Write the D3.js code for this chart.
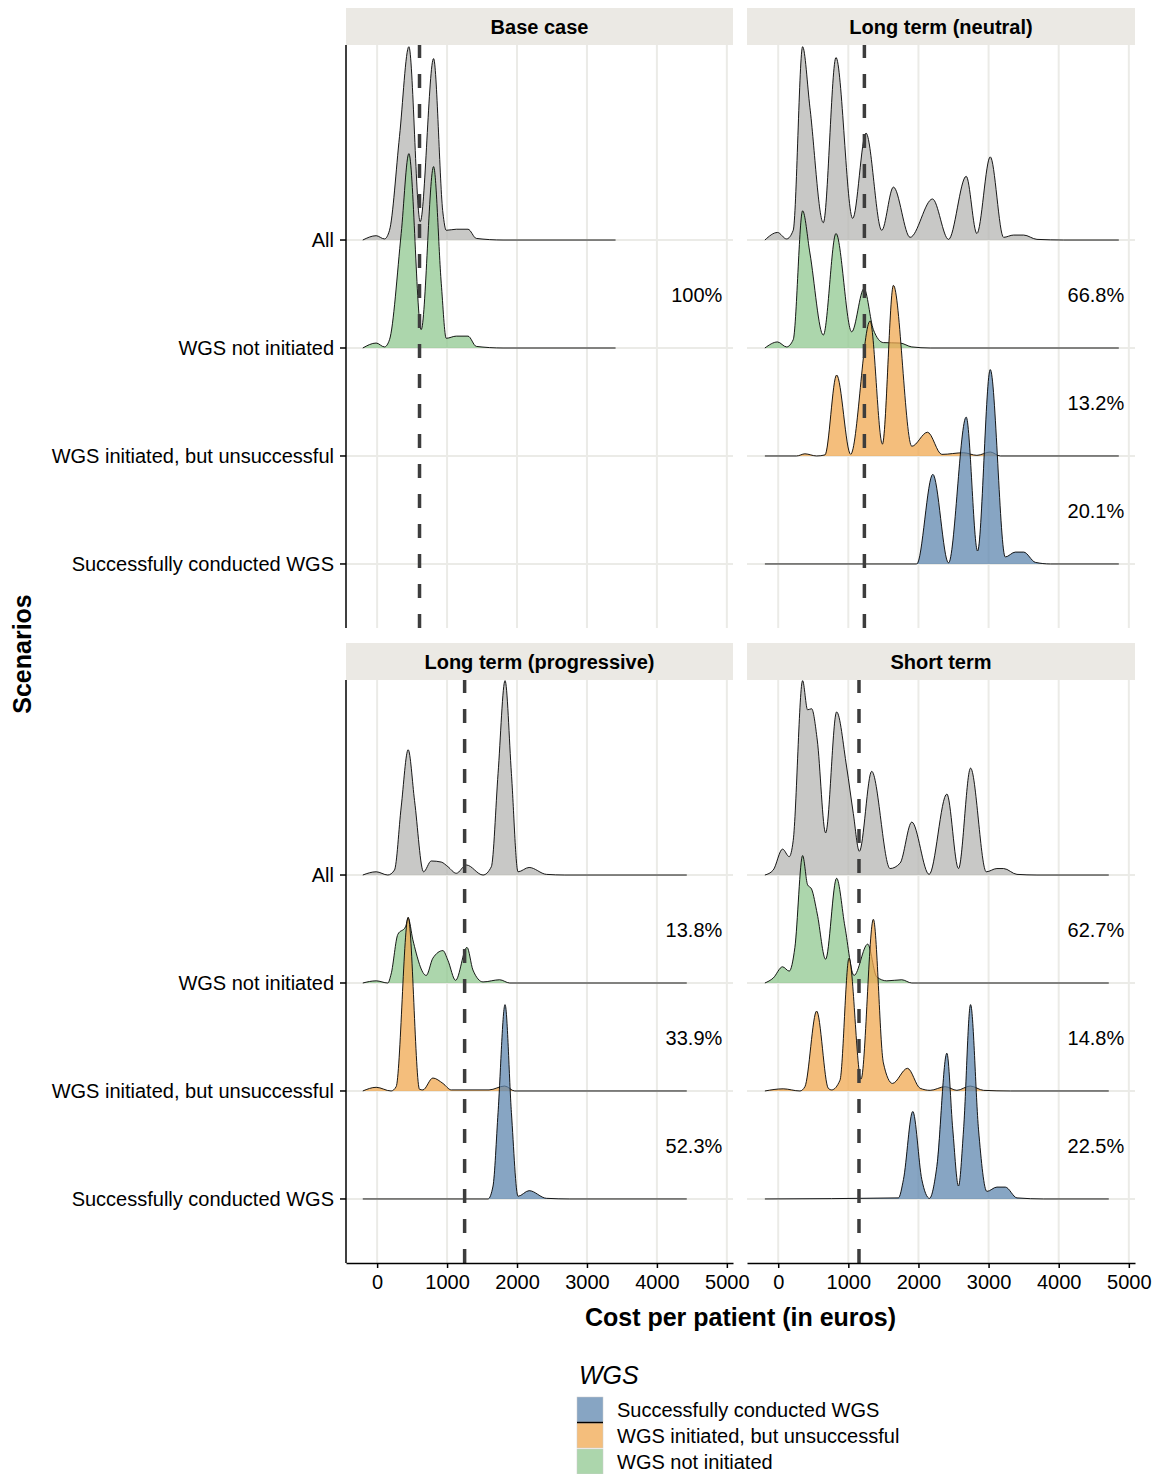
<!DOCTYPE html>
<html lang="en">
<head>
    <meta charset="UTF-8">
    <script src="https://cdn.jsdelivr.net/npm/d3@7"></script>
    <title>WGS cost ridges</title>
    <style>
        body {
            margin: 0;
            background: #fff;
        }

        text {
            font-family: 'Liberation Sans', Arial, sans-serif;
            fill: #000;
        }
    </style>
</head>

<body>
    <div id="chart"></div>

    <script>
        // facets and rows
        const panels = ["Base case", "Long term (neutral)", "Long term (progressive)", "Short term"];
        const scenarios = ["All", "WGS not initiated", "WGS initiated, but unsuccessful", "Successfully conducted WGS"];
        const xTicks = [0, 1000, 2000, 3000, 4000, 5000];
        const meanCost = [606, 1229, 1251, 1152];

        // share of patients per row (All row has no label)
        const shares = [
            [null, 100, null, null],
            [null, 66.8, 13.2, 20.1],
            [null, 13.8, 33.9, 52.3],
            [null, 62.7, 14.8, 22.5]
        ];

        // density curves: [cost, scaled height]
        const baseAll = [[-205, 0], [-14, 0.04], [105, 0.01], [177, 0.09], [320, 0.96], [454, 1.79], [616, 0.17], [807, 1.68], [941, 0.25], [988, 0.09], [1132, 0.10], [1299, 0.10], [1418, 0.015], [1800, 0], [3409, 0]];
        const baseNot = [[-205, 0], [-14, 0.046], [105, 0.01], [177, 0.077], [344, 1.06], [454, 1.80], [630, 0.17], [807, 1.68], [917, 0.60], [988, 0.09], [1132, 0.11], [1299, 0.11], [1418, 0.015], [1800, 0], [3409, 0]];

        const neutralAll = [[-190, 0], [-10, 0.07], [119, 0.01], [214, 0.09], [348, 1.79], [452, 1.23], [643, 0.16], [824, 1.69], [1062, 0.20], [1252, 0.99], [1476, 0.09], [1643, 0.49], [1881, 0.025], [2200, 0.38], [2429, 0.006], [2681, 0.59], [2833, 0.06], [3024, 0.77], [3214, 0.025], [3357, 0.046], [3500, 0.046], [3690, 0.006], [4071, 0], [4857, 0]];
        const neutralNot = [[-190, 0], [-10, 0.056], [119, 0.01], [214, 0.077], [348, 1.27], [452, 0.88], [643, 0.12], [824, 1.06], [1048, 0.15], [1224, 0.55], [1357, 0.17], [1500, 0.05], [1738, 0.046], [1905, 0.01], [2167, 0], [4857, 0]];
        const neutralFail = [[-190, 0], [262, 0], [381, 0.02], [548, 0], [667, 0.01], [833, 0.75], [1033, 0.016], [1310, 1.25], [1486, 0.11], [1643, 1.58], [1905, 0.09], [2129, 0.22], [2333, 0.015], [2643, 0.03], [2833, 0.006], [3024, 0.037], [3167, 0], [4857, 0]];
        const neutralSuccess = [[-190, 0], [1976, 0], [2205, 0.83], [2429, 0.01], [2681, 1.36], [2843, 0.12], [3024, 1.80], [3238, 0.065], [3381, 0.11], [3500, 0.11], [3667, 0.015], [3881, 0], [4857, 0]];

        const progAll = [[-205, 0], [-14, 0.03], [153, 0], [248, 0.046], [344, 0.63], [444, 1.16], [535, 0.69], [664, 0.03], [774, 0.13], [917, 0.12], [1012, 0.077], [1132, 0.016], [1275, 0.093], [1514, 0], [1633, 0.077], [1729, 0.94], [1829, 1.80], [1920, 0.94], [2015, 0.03], [2173, 0.07], [2421, 0.006], [2684, 0], [4427, 0]];
        const progNot = [[-205, 0], [-14, 0.02], [153, 0], [200, 0.083], [296, 0.45], [406, 0.52], [444, 0.60], [511, 0.40], [702, 0.07], [797, 0.23], [941, 0.30], [1012, 0.21], [1122, 0.025], [1285, 0.33], [1370, 0.12], [1514, 0.01], [1752, 0.03], [1896, 0], [4427, 0]];
        const progFail = [[-205, 0], [-14, 0.034], [200, 0], [272, 0.04], [444, 1.61], [606, 0.016], [654, 0.01], [797, 0.12], [941, 0.07], [1060, 0.01], [1600, 0.01], [1824, 0.046], [1967, 0], [4427, 0]];
        const progSuccess = [[-205, 0], [1585, 0], [1657, 0.12], [1729, 0.80], [1829, 1.80], [1920, 0.80], [2015, 0.025], [2173, 0.077], [2421, 0.006], [2755, 0], [4427, 0]];

        const shortAll = [[-190, 0], [-71, 0.046], [62, 0.24], [157, 0.17], [214, 0.32], [348, 1.80], [419, 1.53], [476, 1.54], [557, 1.25], [676, 0.39], [833, 1.51], [976, 1.00], [1071, 0.57], [1157, 0.22], [1333, 0.96], [1595, 0.06], [1738, 0.11], [1905, 0.49], [2152, 0.006], [2405, 0.75], [2571, 0.06], [2743, 0.99], [2967, 0.03], [3119, 0.06], [3214, 0.06], [3405, 0.006], [3690, 0], [4714, 0]];
        const shortNot = [[-190, 0], [-71, 0.046], [62, 0.15], [157, 0.11], [238, 0.33], [348, 1.18], [419, 0.91], [476, 0.87], [557, 0.64], [676, 0.22], [833, 0.97], [952, 0.52], [1081, 0.07], [1276, 0.36], [1405, 0.056], [1548, 0.02], [1762, 0.03], [1905, 0], [4714, 0]];
        const shortFail = [[-190, 0], [71, 0.02], [310, 0], [381, 0.04], [548, 0.74], [714, 0.025], [762, 0.01], [881, 0.10], [1010, 1.23], [1181, 0.11], [1357, 1.59], [1500, 0.26], [1629, 0.07], [1843, 0.21], [2024, 0.025], [2167, 0.006], [2381, 0.04], [2548, 0.006], [2738, 0.046], [2929, 0.006], [3310, 0], [4714, 0]];
        const shortSuccess = [[-190, 0], [1714, 0.01], [1786, 0.18], [1919, 0.81], [2048, 0.18], [2157, 0.006], [2262, 0.30], [2405, 1.35], [2490, 0.64], [2571, 0.12], [2643, 0.64], [2743, 1.80], [2857, 0.64], [2976, 0.07], [3119, 0.11], [3238, 0.11], [3405, 0.01], [3786, 0], [4714, 0]];

        const curves = [
            [baseAll, baseNot, null, null],
            [neutralAll, neutralNot, neutralFail, neutralSuccess],
            [progAll, progNot, progFail, progSuccess],
            [shortAll, shortNot, shortFail, shortSuccess]
        ];

        const fills = ["#b5b5b3", "#90c890", "#f0a850", "#5f87af"];
        const legendKeys = ["Successfully conducted WGS", "WGS initiated, but unsuccessful", "WGS not initiated"];
        const legendFills = [fills[3], fills[2], fills[1]];

        const width = 1158, height = 1474;
        const colX = [[346, 733], [747, 1135]];
        const rowY = [[45, 628], [680, 1263]];
        const stripH = 37;
        const gridColor = "#ebebe7";
        const fontSize = 20;

        const svg = d3.select("#chart").append("svg")
            .attr("width", width)
            .attr("height", height);

        panels.forEach((name, p) => {
            const col = p % 2, row = Math.floor(p / 2);
            const [x0, x1] = colX[col];
            const [y0, y1] = rowY[row];

            const x = d3.scaleLinear().domain([-445, 5088]).range([x0, x1]);
            const y = d3.scaleLinear().domain([0.407, 5.806]).range([y1, y0]);
            const level = i => 4 - i; // All on top

            const g = svg.append("g");

            // strip
            g.append("rect")
                .attr("x", x0).attr("y", y0 - stripH)
                .attr("width", x1 - x0).attr("height", stripH)
                .attr("fill", "#ebe9e4");
            g.append("text")
                .attr("x", (x0 + x1) / 2).attr("y", y0 - stripH / 2)
                .attr("text-anchor", "middle").attr("dominant-baseline", "central")
                .attr("font-size", fontSize).attr("font-weight", "bold")
                .text(name);

            // grid
            g.selectAll(".vgrid").data(xTicks).enter().append("line")
                .attr("x1", d => x(d)).attr("x2", d => x(d))
                .attr("y1", y0).attr("y2", y1)
                .attr("stroke", gridColor).attr("stroke-width", 2);
            g.selectAll(".hgrid").data(scenarios).enter().append("line")
                .attr("x1", x0).attr("x2", x1)
                .attr("y1", (d, i) => y(level(i))).attr("y2", (d, i) => y(level(i)))
                .attr("stroke", gridColor).attr("stroke-width", 2);

            // ridges, top row first so lower rows sit on top
            curves[p].forEach((pts, i) => {
                if (!pts) return;
                const base = level(i);
                const area = d3.area()
                    .x(d => x(d[0]))
                    .y0(y(base))
                    .y1(d => y(base + d[1]))
                    .curve(d3.curveMonotoneX);
                const line = d3.line()
                    .x(d => x(d[0]))
                    .y(d => y(base + d[1]))
                    .curve(d3.curveMonotoneX);
                g.append("path").attr("d", area(pts))
                    .attr("fill", fills[i]).attr("fill-opacity", 0.75);
                g.append("path").attr("d", line(pts))
                    .attr("fill", "none").attr("stroke", "#000").attr("stroke-width", 0.9);
            });

            // mean cost
            g.append("line")
                .attr("x1", x(meanCost[p])).attr("x2", x(meanCost[p]))
                .attr("y1", y1).attr("y2", y0)
                .attr("stroke", "#3d3d3d").attr("stroke-width", 3.5)
                .attr("stroke-dasharray", "14,16");

            // shares
            shares[p].forEach((v, i) => {
                if (v === null) return;
                g.append("text")
                    .attr("x", x(4935)).attr("y", y(level(i) + 0.49))
                    .attr("text-anchor", "end").attr("dominant-baseline", "central")
                    .attr("font-size", fontSize)
                    .text(v === 100 ? "100%" : v.toFixed(1) + "%");
            });

            // y axis on left column
            if (col === 0) {
                g.append("line")
                    .attr("x1", x0).attr("x2", x0).attr("y1", y0).attr("y2", y1)
                    .attr("stroke", "#000").attr("stroke-width", 1.5);
                scenarios.forEach((s, i) => {
                    g.append("line")
                        .attr("x1", x0 - 6).attr("x2", x0)
                        .attr("y1", y(level(i))).attr("y2", y(level(i)))
                        .attr("stroke", "#000").attr("stroke-width", 1.5);
                    g.append("text")
                        .attr("x", x0 - 12).attr("y", y(level(i)))
                        .attr("text-anchor", "end").attr("dominant-baseline", "central")
                        .attr("font-size", fontSize).attr("fill", "#111")
                        .text(s);
                });
            }

            // x axis on bottom row
            if (row === 1) {
                const ax = g.append("g").attr("transform", `translate(0,${y1})`)
                    .call(d3.axisBottom(x).tickValues(xTicks).tickFormat(d3.format("d"))
                        .tickSize(5).tickSizeOuter(0).tickPadding(7));
                ax.select(".domain").attr("stroke", "#000").attr("stroke-width", 1.5);
                ax.selectAll(".tick line").attr("stroke", "#000").attr("stroke-width", 1.5);
                ax.selectAll(".tick text")
                    .attr("font-size", fontSize).attr("font-family", "'Liberation Sans', Arial, sans-serif")
                    .attr("fill", "#111");
            }
        });

        // axis titles
        svg.append("text")
            .attr("x", (colX[0][0] + colX[1][1]) / 2).attr("y", 1317)
            .attr("text-anchor", "middle").attr("dominant-baseline", "central")
            .attr("font-size", 25).attr("font-weight", "bold")
            .text("Cost per patient (in euros)");
        svg.append("text")
            .attr("transform", `translate(22,${(rowY[0][0] + rowY[1][1]) / 2}) rotate(-90)`)
            .attr("text-anchor", "middle").attr("dominant-baseline", "central")
            .attr("font-size", 25).attr("font-weight", "bold")
            .text("Scenarios");

        // legend
        const legend = svg.append("g").attr("transform", "translate(577,1362)");
        legend.append("text")
            .attr("x", 2).attr("y", 13)
            .attr("dominant-baseline", "central")
            .attr("font-size", 25).attr("font-style", "italic")
            .text("WGS");
        legendKeys.forEach((k, i) => {
            const ky = 35 + i * 26;
            legend.append("rect")
                .attr("x", 0).attr("y", ky).attr("width", 26).attr("height", 25)
                .attr("fill", legendFills[i]).attr("fill-opacity", 0.75)
                .attr("stroke", "#ccc").attr("stroke-width", 0.5);
            legend.append("text")
                .attr("x", 40).attr("y", ky + 13)
                .attr("dominant-baseline", "central")
                .attr("font-size", fontSize).attr("fill", "#111")
                .text(k);
        });
        legend.append("line")
            .attr("x1", 0).attr("x2", 26).attr("y1", 60.5).attr("y2", 60.5)
            .attr("stroke", "#000").attr("stroke-width", 1.5);
    </script>
</body>
</html>
